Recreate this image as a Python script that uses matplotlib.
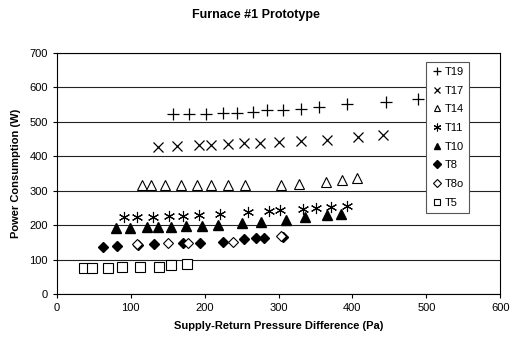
import matplotlib
matplotlib.use("Agg")
import matplotlib.pyplot as plt

plt.rcParams['font.family'] = ['Liberation Sans', 'DejaVu Sans']

# Supply-return pressure difference (Pa) and power consumption (W) per test
t19_x = [157, 179, 202, 225, 244, 265, 285, 306, 330, 355, 393, 446, 489]
t19_y = [523, 523, 523, 525, 527, 530, 533, 535, 538, 543, 551, 559, 567]

t17_x = [137, 162, 193, 208, 231, 253, 275, 300, 330, 365, 407, 441]
t17_y = [427, 429, 433, 433, 436, 438, 440, 442, 445, 447, 455, 463]

t14_x = [115, 127, 147, 168, 189, 209, 231, 254, 304, 328, 364, 386, 406]
t14_y = [317, 317, 317, 317, 317, 317, 317, 317, 317, 319, 326, 331, 336]

t11_x = [91, 109, 130, 152, 171, 193, 221, 259, 287, 302, 333, 351, 371, 392]
t11_y = [224, 224, 224, 227, 228, 229, 233, 237, 240, 243, 247, 249, 252, 255]

t10_x = [80, 99, 122, 137, 155, 175, 196, 218, 251, 276, 310, 336, 366, 385]
t10_y = [192, 192, 194, 194, 195, 197, 199, 200, 205, 210, 215, 224, 230, 232]

t8_x = [62, 82, 110, 131, 171, 194, 225, 253, 270, 281, 306]
t8_y = [137, 139, 142, 145, 147, 149, 151, 159, 162, 163, 167]

t8o_x = [108, 151, 178, 238, 304]
t8o_y = [144, 147, 149, 152, 168]

t5_x = [37, 47, 69, 88, 112, 138, 155, 176]
t5_y = [77, 77, 77, 79, 79, 79, 84, 87]

x_ticks = [0, 100, 200, 300, 400, 500, 600]
y_ticks = [0, 100, 200, 300, 400, 500, 600, 700]

fig = plt.figure(figsize=(5.12, 3.46), dpi=100)
ax = fig.add_axes([0.111, 0.150, 0.866, 0.697])

ax.set_xlim(0, 600)
ax.set_ylim(0, 700)
ax.set_xticks(x_ticks)
ax.set_yticks(y_ticks)
ax.tick_params(labelsize=8, length=3, width=0.8, direction='out', color='black')
ax.yaxis.grid(True, color='#222222', linewidth=0.8)
ax.set_axisbelow(True)
for s in ax.spines.values():
    s.set_color('black')
    s.set_linewidth(0.8)

k = dict(linestyle='none', clip_on=False)
ax.plot(t19_x, t19_y, marker='+', color='black', markersize=8, markeredgewidth=0.9, label='T19', **k)
ax.plot(t17_x, t17_y, marker='x', color='black', markersize=7, markeredgewidth=0.9, label='T17', **k)
ax.plot(t14_x, t14_y, marker='^', markerfacecolor='white', markeredgecolor='black', markersize=7,
        markeredgewidth=0.8, label='T14', **k)
ax.plot(t11_x, t11_y, marker=(6, 2, 0), color='black', markersize=8, markeredgewidth=0.8, label='T11', **k)
ax.plot(t10_x, t10_y, marker='^', color='black', markersize=7, label='T10', **k)
ax.plot(t8_x, t8_y, marker='D', color='black', markersize=5.5, label='T8', **k)
ax.plot(t8o_x, t8o_y, marker='D', markerfacecolor='white', markeredgecolor='black', markersize=5.5,
        markeredgewidth=0.8, label='T8o', **k)
ax.plot(t5_x, t5_y, marker='s', markerfacecolor='white', markeredgecolor='black', markersize=6.5,
        markeredgewidth=0.8, label='T5', **k)

leg = ax.legend(loc='upper left', bbox_to_anchor=(0.833, 0.963), borderaxespad=0, fontsize=8,
                frameon=True, fancybox=False, edgecolor='#555555', framealpha=1, borderpad=0.45,
                labelspacing=0.78, handlelength=1.1, handletextpad=0.15, markerscale=0.7)
leg.get_frame().set_linewidth(0.8)

ax.set_xlabel('Supply-Return Pressure Difference (Pa)', fontsize=8, fontweight='bold', labelpad=6)
ax.set_ylabel('Power Consumption (W)', fontsize=8, fontweight='bold', labelpad=6)
fig.suptitle('Furnace #1 Prototype', fontsize=9, fontweight='bold', x=0.5, y=0.975)

fig.savefig('out.png', dpi=100)
